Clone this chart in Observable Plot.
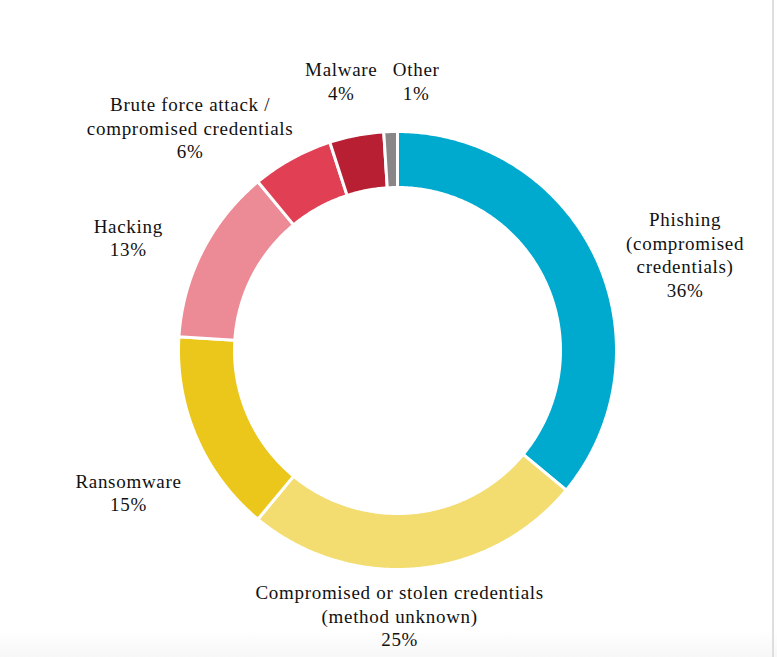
<!DOCTYPE html>
<html><head><meta charset="utf-8">
<script src="https://cdn.jsdelivr.net/npm/d3@7"></script>
<script src="https://cdn.jsdelivr.net/npm/@observablehq/plot@0.6"></script>
<style>
html,body{margin:0;padding:0;background:#fff;overflow:hidden;}
#wrap{position:relative;width:777px;height:657px;overflow:hidden;background:linear-gradient(to bottom,#fff 0,#fff 630px,#f7f7f7 657px);}
#edge{position:absolute;left:772px;top:0;width:2px;height:657px;background:#dedede;}
#wrap svg{position:absolute;left:0;top:0;background:transparent;}
#wrap svg text{letter-spacing:0.7px;}
</style></head><body><div id="wrap"><div id="edge"></div></div>
<script>
// ---- data ----
const categories = [
  "Phishing (compromised credentials)",
  "Compromised or stolen credentials (method unknown)",
  "Ransomware",
  "Hacking",
  "Brute force attack / compromised credentials",
  "Malware",
  "Other"
];
const labelText = [
  "Phishing\n(compromised\ncredentials)",
  "Compromised or stolen credentials\n(method unknown)",
  "Ransomware",
  "Hacking",
  "Brute force attack /\ncompromised credentials",
  "Malware",
  "Other"
];
const values = [36, 25, 15, 13, 6, 4, 1];
const colors = ["#00aacf", "#f3dd70", "#ebc71c", "#ec8a96", "#e03f54", "#b81f33", "#8a8587"];

// ---- layout (pixels) ----
const W = 777, H = 657, CX = 397, CY = 350;
const R_OUT = 219, R_IN = 163;
const FONT = 19, LH = 1.237;
const R_LABEL = 240;
// hand-tuned label nudges, like manual label dragging in the source
const labelNudge = [[17, 23.5], [-34, -4.5], [0, 38.5], [-24.5, 4], [-42, 14], [-4.5, -16], [27, -11.5]];

const arcs = d3.pie().sort(null).value(d => d)(values);

const ringPts = [];
arcs.forEach((a, i) => {
  const key = categories[i];
  const n = Math.max(2, Math.ceil((a.endAngle - a.startAngle) / (Math.PI / 360)));
  for (let k = 0; k <= n; k++) {
    const t = a.startAngle + (a.endAngle - a.startAngle) * k / n;
    ringPts.push({key, x: R_OUT * Math.sin(t), y: -R_OUT * Math.cos(t)});
  }
  for (let k = n; k >= 0; k--) {
    const t = a.startAngle + (a.endAngle - a.startAngle) * k / n;
    ringPts.push({key, x: R_IN * Math.sin(t), y: -R_IN * Math.cos(t)});
  }
});

const ctx = document.createElement("canvas").getContext("2d");
ctx.font = `${FONT}px "Liberation Serif"`;
const labels = arcs.map((a, i) => {
  const text = labelText[i] + "\n" + values[i] + "%";
  const lines = text.split("\n");
  const w = d3.max(lines, l => ctx.measureText(l).width + l.length * 0.7);
  const h = (lines.length - 1) * FONT * LH + 14;
  const m = (a.startAngle + a.endAngle) / 2;
  const ux = Math.sin(m), uy = -Math.cos(m);
  return {
    text,
    x: ux * (R_LABEL + w / 2) + labelNudge[i][0],
    y: uy * (R_LABEL + h / 2) + labelNudge[i][1]
  };
});

const chart = Plot.plot({
  width: W, height: H,
  margin: 0,
  x: {axis: null, domain: [-CX, W - CX], range: [0, W]},
  y: {axis: null, domain: [-CY, H - CY], range: [0, H]},
  color: {type: "ordinal", domain: categories, range: colors},
  style: {background: "transparent"},
  marks: [
    Plot.line(ringPts, {x: "x", y: "y", z: "key", fill: "key", stroke: "white", strokeWidth: 3, curve: "linear-closed"}),
    Plot.text(labels, {x: "x", y: "y", text: "text", fontSize: FONT, lineHeight: LH, fontFamily: "Liberation Serif", fill: "#111", textAnchor: "middle"})
  ]
});
document.getElementById("wrap").appendChild(chart);
</script>
</body></html>
